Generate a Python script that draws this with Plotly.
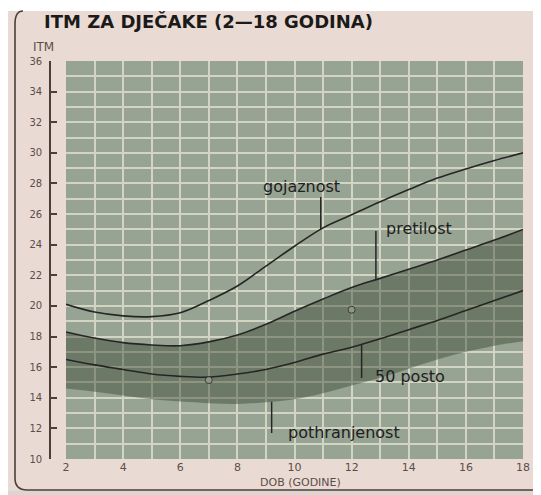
import numpy as np
import plotly.graph_objects as go

# ---------------- data ----------------
ages = list(range(2, 19))
gojaznost = [20.1, 19.6, 19.35, 19.3, 19.55, 20.35, 21.3, 22.6, 23.9, 25.1, 25.95,
             26.8, 27.6, 28.35, 28.95, 29.5, 30.0]
pretilost = [18.3, 17.9, 17.6, 17.45, 17.4, 17.65, 18.1, 18.8, 19.65, 20.45, 21.2,
             21.8, 22.4, 23.0, 23.65, 24.3, 25.0]
posto50 = [16.5, 16.15, 15.85, 15.55, 15.4, 15.35, 15.55, 15.85, 16.3, 16.85, 17.3,
           17.85, 18.45, 19.05, 19.7, 20.35, 21.0]
pothranjenost = [14.6, 14.4, 14.15, 13.9, 13.75, 13.65, 13.6, 13.7, 13.9, 14.3, 14.8,
                 15.3, 15.9, 16.5, 17.0, 17.4, 17.7]
point_ages = [7, 12]
point_itm = [15.15, 19.75]
x_ticks = [2, 4, 6, 8, 10, 12, 14, 16, 18]
y_ticks = [10, 12, 14, 16, 18, 20, 22, 24, 26, 28, 30, 32, 34, 36]

# ---------------- geometry (page body has an 8px margin) ----------------
OFF = 8
W, H = 541 - OFF, 495 - OFF
ML, MR, MT, MB = 50 - OFF, 18, 61 - OFF, 36
PW, PH = W - ML - MR, H - MT - MB
X_DOMAIN0 = (66 - 50) / PW

PAPER = "#e9dbd4"
GREEN = "#97a393"
BAND = "rgba(58,72,52,0.45)"
GRID = "#d2d5c3"
INK = "#262624"
BROWN = "#4e3e39"
TICKC = "#5d4d48"


def pp(px, py):
    """reference-window pixel -> paper coords"""
    return (px - OFF - ML) / PW, (H - MB - (py - OFF)) / PH


fig = go.Figure()

# band (pothranjenost .. pretilost)
fig.add_trace(go.Scatter(x=ages, y=pothranjenost, mode="lines", line=dict(width=0, shape="spline"),
                         hoverinfo="skip", showlegend=False))
fig.add_trace(go.Scatter(x=ages, y=pretilost, mode="lines", line=dict(width=0, shape="spline"),
                         fill="tonexty", fillcolor=BAND, hoverinfo="skip", showlegend=False))

for name, ys in [("gojaznost", gojaznost), ("pretilost", pretilost), ("50 posto", posto50)]:
    fig.add_trace(go.Scatter(x=ages, y=ys, mode="lines", name=name,
                             line=dict(color=INK, width=1.6, shape="spline"), showlegend=False))

fig.add_trace(go.Scatter(x=point_ages, y=point_itm, mode="markers", showlegend=False,
                         marker=dict(size=7, color="#8d9688", line=dict(color="#3a3a36", width=1))))

shapes = []
annotations = []


def leader(x, y0, y1):
    shapes.append(dict(type="line", xref="x", yref="y", x0=x, x1=x, y0=y0, y1=y1,
                       line=dict(color=INK, width=1.5)))


def label(text, x, y):
    annotations.append(dict(text=text, x=x, y=y, xref="x", yref="y", showarrow=False,
                            xanchor="center", yanchor="middle",
                            font=dict(family="DejaVu Sans", size=16, color="#202020")))


# labels with leader lines
gx = 10.92
leader(gx, 27.12, float(np.interp(gx, ages, gojaznost)))
label("gojaznost", 10.25, 27.83)

px_ = 12.85
leader(px_, 24.9, float(np.interp(px_, ages, pretilost)))
label("pretilost", 14.36, 25.03)

fx = 12.35
leader(fx, float(np.interp(fx, ages, posto50)), 15.29)
label("50 posto", 14.05, 15.36)

tx = 9.2
leader(tx, float(np.interp(tx, ages, pothranjenost)), 11.7)
label("pothranjenost", 11.75, 11.76)

# white surroundings of the photographed page
for (x0, y0, x1, y1, c) in [(OFF, OFF, 541, 11, "#ffffff"), (OFF, 491, 541, 495, "#ddd5d1")]:
    a0, b0 = pp(x0, y1)
    a1, b1 = pp(x1, y0)
    shapes.append(dict(type="rect", xref="paper", yref="paper", x0=a0, x1=a1, y0=b0, y1=b1,
                       fillcolor=c, line=dict(width=0), layer="above"))

# rounded page frame
p1 = pp(23, 11); c1 = pp(15, 11); p2 = pp(15, 24); p3 = pp(15, 478)
c2 = pp(15, 490); p4 = pp(27, 490); p5 = pp(541, 490)
path = (f"M {p1[0]},{p1[1]} Q {c1[0]},{c1[1]} {p2[0]},{p2[1]} L {p3[0]},{p3[1]} "
        f"Q {c2[0]},{c2[1]} {p4[0]},{p4[1]} L {p5[0]},{p5[1]}")
shapes.append(dict(type="path", xref="paper", yref="paper", path=path,
                   line=dict(color=BROWN, width=1.6), layer="above"))

# title and axis texts
tx0, ty0 = pp(42, 22)
annotations.append(dict(text="<b>ITM ZA DJEČAKE (2—18 GODINA)</b>", x=tx0, y=ty0,
                        xref="paper", yref="paper", xanchor="left", yanchor="middle",
                        showarrow=False, font=dict(family="DejaVu Sans", size=18, color="#1c1a19")))
ix, iy = pp(43.5, 47)
annotations.append(dict(text="ITM", x=ix, y=iy, xref="paper", yref="paper", showarrow=False,
                        xanchor="center", yanchor="middle",
                        font=dict(family="DejaVu Sans", size=12, color=TICKC)))
dx, dy = pp(300, 482)
annotations.append(dict(text="DOB (GODINE)", x=dx, y=dy, xref="paper", yref="paper", showarrow=False,
                        xanchor="center", yanchor="middle",
                        font=dict(family="DejaVu Sans", size=11, color=TICKC)))

fig.update_layout(
    width=W, height=H, margin=dict(l=ML, r=MR, t=MT, b=MB),
    paper_bgcolor=PAPER, plot_bgcolor=GREEN,
    shapes=shapes, annotations=annotations,
    xaxis=dict(domain=[X_DOMAIN0, 1], range=[2, 18], tickvals=x_ticks, ticktext=[str(v) for v in x_ticks],
               showgrid=True, gridcolor=GRID, gridwidth=1.6, zeroline=False, showline=False, ticks="",
               minor=dict(dtick=1, tick0=2, showgrid=True, gridcolor=GRID, gridwidth=1.6),
               tickfont=dict(family="DejaVu Sans", size=11, color=TICKC), fixedrange=True),
    yaxis=dict(anchor="free", position=0, range=[10, 36], tickvals=y_ticks,
               ticktext=[str(v) for v in y_ticks],
               showgrid=True, gridcolor=GRID, gridwidth=1.6, zeroline=False,
               showline=True, linecolor=BROWN, linewidth=1.6,
               ticks="inside", ticklen=6, tickwidth=1.5, tickcolor=BROWN, ticklabelstandoff=5,
               minor=dict(dtick=1, tick0=10, showgrid=True, gridcolor=GRID, gridwidth=1.6),
               tickfont=dict(family="DejaVu Sans", size=10, color=TICKC), fixedrange=True),
)

fig.write_html("out.html")
